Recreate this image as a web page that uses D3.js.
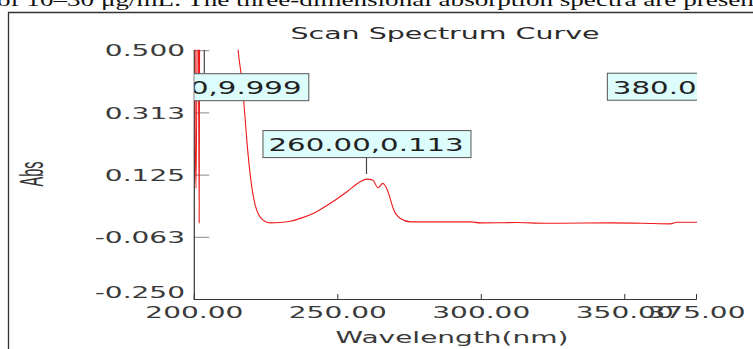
<!DOCTYPE html>
<html>
<head>
<meta charset="utf-8">
<script src="https://cdn.jsdelivr.net/npm/d3@7"></script>
<style>
  html, body { margin: 0; padding: 0; background: #fff; overflow: hidden; }
  svg { display: block; }
</style>
</head>
<body>
<svg id="chart" width="753" height="349"></svg>
<script>
// scan data (nm, Abs); values above 0.5 run off the top
var wavelengths = [200.0, 200.3, 200.6, 201.3, 201.7, 202.1, 205, 210, 213, 215.2, 216.3, 217.2, 218.4, 219.3, 220.1, 221.2, 222.4, 223.6, 224.7, 226.5, 230, 233.4, 237.5, 241.6, 247.4, 253.2, 257.8, 260, 262.2, 264.0, 265.7, 266.6, 267.7, 269.4, 271.8, 275.3, 285, 296.2, 299.7, 312, 322, 327.5, 345, 356, 365.9, 368.2, 375, 380];
var absorbance  = [9.999, 0.267, 0.085, 0.9, -0.019, 1.6, 2.4, 1.8, 0.95, 0.51, 0.43, 0.351, 0.22, 0.14, 0.085, 0.035, 0.006, -0.008, -0.015, -0.019, -0.018, -0.014, -0.004, 0.010, 0.040, 0.075, 0.105, 0.113, 0.110, 0.087, 0.100, 0.092, 0.070, 0.022, -0.006, -0.016, -0.016, -0.016, -0.019, -0.018, -0.020, -0.020, -0.019, -0.020, -0.022, -0.017, -0.017, -0.017];

var yTicks = [0.5, 0.3125, 0.125, -0.0625, -0.25];
var yTickLabels = ["0.500", "0.313", "0.125", "-0.063", "-0.250"];
var xTicks = [200, 250, 300, 350, 375];
var xTickLabels = ["200.00", "250.00", "300.00", "350.00", "375.00"];

var markWavelengths = [200, 260, 380];
var markLabels = ["200.00,9.999", "260.00,0.113", "380.00,-0.017"];

var chart = (function (d3) {
	var svg, xScale, yScale, plot;
	var SX = 1.75; // the whole scan picture is stretched sideways

	function init() {
		svg = d3.select("#chart");

		xScale = d3.scaleLinear().domain([200, 375]).range([194.3, 696.5]);
		yScale = d3.scaleLinear().domain([-0.25, 0.5]).range([299.5, 50.7]);

		/*caption line of the page, cut off at the top*/
		svg.append("text")
			.attr("x", -3).attr("y", 6)
			.attr("textLength", 790).attr("lengthAdjust", "spacingAndGlyphs")
			.style("font-family", "'Liberation Serif', serif").style("font-size", "19px")
			.attr("fill", "#111")
			.text("of 10\u201330 \u03bcg/mL. The three-dimensional absorption spectra are presented");

		/*frame*/
		svg.append("path")
			.attr("d", "M8.5,349V12.5H753")
			.attr("fill", "none").attr("stroke", "#333").attr("stroke-width", 1.3);

		stretched(svg, "Scan Spectrum Curve", 445, 39, "middle", 16, 1.78).attr("fill", "#2a2a2a");

		/*y axis label*/
		svg.append("text")
			.attr("transform", "translate(43,174) scale(2.3,1) rotate(-90)")
			.attr("text-anchor", "middle")
			.style("font-family", "'Liberation Sans', sans-serif").style("font-size", "14.5px")
			.attr("fill", "#333")
			.text("Abs");

		stretched(svg, "Wavelength(nm)", 452, 343, "middle", 16, 1.75).attr("fill", "#3a3a3a");

		drawAxes();

		/*clip for the curve and the readout boxes*/
		svg.append("clipPath").attr("id", "plotClip")
			.append("rect")
			.attr("x", xScale(200)).attr("y", yScale(0.5) - 1)
			.attr("width", xScale(375) - xScale(200) + 0.5)
			.attr("height", yScale(-0.25) - yScale(0.5) + 1);
		plot = svg.append("g").attr("clip-path", "url(#plotClip)");

		var line = d3.line()
			.curve(d3.curveMonotoneX)
			.x(function (d, i) { return xScale(wavelengths[i]); })
			.y(function (d) { return yScale(d); });

		plot.append("path")
			.datum(absorbance)
			.attr("d", line)
			.attr("fill", "none")
			.attr("stroke", "#f01818")
			.attr("stroke-width", 1.1);

		drawMarks();
	}

	function stretched(sel, txt, x, y, anchor, size, sx) {
		return sel.append("text")
			.attr("transform", "translate(" + x + "," + y + ") scale(" + sx + ",1)")
			.attr("text-anchor", anchor)
			.style("font-family", "'DejaVu Sans', sans-serif")
			.style("font-size", size + "px")
			.text(txt);
	}

	function drawAxes() {
		var g = svg.append("g");
		var x0 = xScale(200), yb = yScale(-0.25);

		yTicks.forEach(function (v, i) {
			var y = yScale(v);
			g.append("line")
				.attr("x1", x0).attr("x2", x0 + 15)
				.attr("y1", y).attr("y2", y)
				.attr("stroke", "#8a8a8a").attr("stroke-width", 1);
			stretched(g, yTickLabels[i], 185, Math.min(y, 292), "end", 16, SX)
				.attr("dy", "0.36em").attr("fill", "#3a3a3a");
		});

		xTicks.forEach(function (v, i) {
			var x = xScale(v);
			g.append("line")
				.attr("x1", x).attr("x2", x)
				.attr("y1", yb).attr("y2", yb - 5.5)
				.attr("stroke", "#333").attr("stroke-width", 1);
			stretched(g, xTickLabels[i], x, 317.5, "middle", 16, SX).attr("fill", "#3a3a3a");
		});

		g.append("path")
			.attr("d", "M" + x0 + "," + (yScale(0.5) - 1) + "V" + yb + "H" + xScale(375))
			.attr("fill", "none").attr("stroke", "#333").attr("stroke-width", 1.2);
	}

	function drawMarks() {
		var boxW = 208, boxH = 27;
		markWavelengths.forEach(function (wl, i) {
			var v = absorbance[wavelengths.indexOf(wl)];
			var cx = xScale(wl) + (v > 0.5 ? 10 : 0);
			var top, lineY1, lineY2;
			if (v > 0.5) {
				// off-scale reading: box hangs under the top edge
				top = yScale(0.5) + 22.5;
				lineY1 = yScale(0.5) - 1; lineY2 = top;
			} else if (wl > 375) {
				top = yScale(0.5) + 22;
				lineY1 = top + boxH; lineY2 = yScale(v) - 5;
			} else {
				top = yScale(v) - 49;
				lineY1 = top + boxH; lineY2 = yScale(v) - 5;
			}
			var gm = plot.append("g");
			gm.append("line")
				.attr("x1", cx).attr("x2", cx)
				.attr("y1", lineY1).attr("y2", lineY2)
				.attr("stroke", "#444").attr("stroke-width", 1.2);
			gm.append("rect")
				.attr("x", cx - boxW / 2 + 0.5).attr("y", top + 0.5)
				.attr("width", boxW).attr("height", boxH)
				.attr("fill", "#ddfcfc").attr("stroke", "#555").attr("stroke-width", 1);
			stretched(gm, markLabels[i], cx - boxW / 2 + 6, top + 21, "start", 17, 1.72)
				.attr("fill", "#222");
		});
	}

	init();
	return { init: init };
})(d3);
</script>
</body>
</html>
